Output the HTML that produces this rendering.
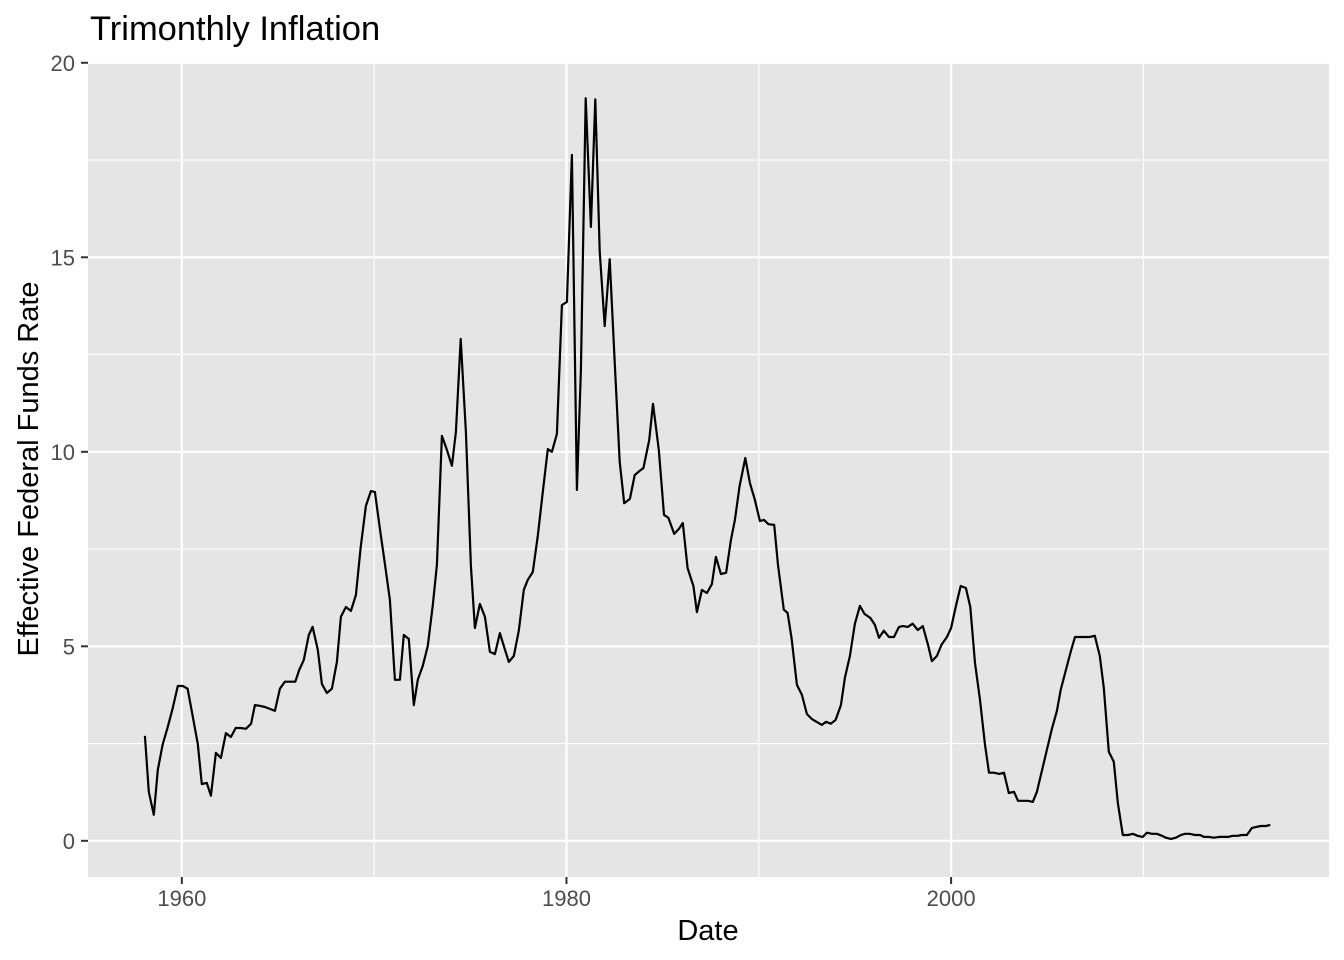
<!DOCTYPE html>
<html><head><meta charset="utf-8"><style>
body{margin:0;background:#fff;}
svg{display:block;font-family:"Liberation Sans",Arial,sans-serif;}
</style></head><body>
<svg id="chart" width="1344" height="960" xmlns="http://www.w3.org/2000/svg">
<rect width="1344" height="960" fill="#fff"/>
<text x="90" y="40" font-size="34.5" fill="#000">Trimonthly Inflation</text>
<rect id="panel" x="88" y="62" width="1241" height="815" fill="#e5e5e5"/>
<g id="grid"></g>
<path id="line" fill="none" stroke="#000" stroke-width="2.2" stroke-linejoin="round"/>
<g id="axes"></g>
<text x="708" y="940" font-size="29" text-anchor="middle">Date</text>
<text transform="translate(38,469) rotate(-90)" font-size="29" text-anchor="middle">Effective Federal Funds Rate</text>
</svg>
<script>
const dates=[1958.08,1958.28,1958.54,1958.75,1959.0,1959.27,1959.53,1959.79,1960.05,1960.3,1960.57,1960.83,1961.04,1961.3,1961.51,1961.77,1962.03,1962.29,1962.55,1962.8,1963.07,1963.33,1963.6,1963.8,1964.06,1964.32,1964.58,1964.84,1965.1,1965.36,1965.6,1965.9,1966.1,1966.34,1966.6,1966.8,1967.07,1967.28,1967.54,1967.8,1968.06,1968.27,1968.53,1968.79,1969.05,1969.3,1969.57,1969.83,1970.04,1970.3,1970.56,1970.82,1971.08,1971.34,1971.54,1971.8,1972.06,1972.27,1972.53,1972.79,1973.05,1973.26,1973.52,1973.78,1974.04,1974.25,1974.5,1974.77,1975.03,1975.24,1975.5,1975.76,1976.02,1976.28,1976.54,1976.74,1977.0,1977.26,1977.52,1977.78,1977.99,1978.25,1978.51,1978.77,1979.03,1979.24,1979.5,1979.76,1980.02,1980.28,1980.54,1980.75,1981.0,1981.27,1981.5,1981.73,1981.99,1982.25,1982.5,1982.77,1983.0,1983.3,1983.55,1983.8,1984.0,1984.3,1984.5,1984.8,1985.07,1985.3,1985.6,1985.85,1986.05,1986.3,1986.6,1986.78,1987.04,1987.3,1987.56,1987.77,1988.03,1988.3,1988.55,1988.76,1989.0,1989.3,1989.54,1989.8,1990.06,1990.27,1990.5,1990.8,1991.0,1991.3,1991.5,1991.7,1991.98,1992.24,1992.5,1992.76,1993.0,1993.28,1993.5,1993.75,1994.0,1994.27,1994.48,1994.74,1995.0,1995.26,1995.5,1995.8,1996.04,1996.25,1996.5,1996.77,1997.03,1997.29,1997.5,1997.75,1998.0,1998.27,1998.53,1998.8,1999.0,1999.26,1999.5,1999.78,2000.0,2000.26,2000.5,2000.77,2001.0,2001.24,2001.5,2001.76,2001.97,2002.23,2002.5,2002.75,2003.0,2003.27,2003.48,2003.73,2004.0,2004.25,2004.46,2004.72,2004.98,2005.24,2005.5,2005.7,2005.97,2006.23,2006.44,2006.7,2006.96,2007.2,2007.47,2007.73,2007.94,2008.2,2008.46,2008.67,2008.93,2009.2,2009.45,2009.7,2009.97,2010.18,2010.44,2010.7,2010.96,2011.17,2011.43,2011.69,2011.95,2012.16,2012.4,2012.68,2012.94,2013.15,2013.4,2013.67,2013.93,2014.13,2014.4,2014.65,2014.9,2015.1,2015.38,2015.64,2015.9,2016.1,2016.37,2016.6];
const rates=[2.70,1.26,0.67,1.82,2.47,2.93,3.42,3.98,3.98,3.91,3.19,2.49,1.46,1.49,1.16,2.26,2.13,2.77,2.67,2.90,2.90,2.88,3.01,3.49,3.47,3.44,3.39,3.34,3.91,4.09,4.09,4.09,4.39,4.65,5.29,5.50,4.91,4.03,3.80,3.91,4.60,5.76,6.01,5.91,6.32,7.55,8.61,8.99,8.97,8.02,7.12,6.19,4.14,4.14,5.29,5.19,3.49,4.14,4.50,5.01,6.06,7.09,10.41,10.05,9.64,10.51,12.90,10.51,7.07,5.47,6.09,5.76,4.86,4.80,5.34,5.01,4.60,4.75,5.40,6.45,6.71,6.91,7.84,8.97,10.07,10.0,10.46,13.77,13.85,17.63,9.02,12.1,19.09,15.78,19.06,15.16,13.23,14.95,12.36,9.74,8.68,8.79,9.40,9.51,9.58,10.3,11.23,10.05,8.38,8.30,7.89,8.02,8.17,7.01,6.55,5.88,6.45,6.37,6.60,7.30,6.86,6.89,7.73,8.25,9.12,9.84,9.20,8.76,8.22,8.25,8.14,8.12,7.09,5.94,5.86,5.22,4.01,3.75,3.26,3.13,3.06,2.98,3.06,3.01,3.11,3.49,4.19,4.75,5.58,6.04,5.83,5.73,5.55,5.22,5.40,5.24,5.24,5.50,5.52,5.50,5.58,5.42,5.52,5.04,4.62,4.75,5.04,5.24,5.47,6.06,6.55,6.50,6.01,4.57,3.62,2.47,1.75,1.75,1.72,1.75,1.23,1.26,1.03,1.03,1.03,1.0,1.26,1.80,2.34,2.88,3.34,3.88,4.39,4.88,5.24,5.24,5.24,5.24,5.27,4.75,3.93,2.29,2.03,0.98,0.15,0.15,0.18,0.13,0.10,0.21,0.18,0.18,0.13,0.08,0.05,0.08,0.15,0.18,0.18,0.15,0.15,0.10,0.10,0.08,0.10,0.10,0.10,0.13,0.13,0.15,0.15,0.33,0.36,0.38,0.38,0.41];
const xTicks=[1960,1980,2000];
const xMinor=[1970,1990,2010];
const yTicks=[0,5,10,15,20];
const yMinor=[2.5,7.5,12.5,17.5];

const NS="http://www.w3.org/2000/svg";
const PX0=88,PX1=1329,PY0=62,PY1=877;
const XMIN=1955.12,XMAX=2019.65,YMIN=-0.93,YMAX=20.02;
const sx=v=>PX0+(v-XMIN)/(XMAX-XMIN)*(PX1-PX0);
const sy=v=>PY1-(v-YMIN)/(YMAX-YMIN)*(PY1-PY0);
function mk(tag,attrs,parent){const e=document.createElementNS(NS,tag);for(const k in attrs)e.setAttribute(k,attrs[k]);parent.appendChild(e);return e;}
const grid=document.getElementById('grid'),axes=document.getElementById('axes');
yMinor.forEach(v=>{const l=mk('line',{x1:PX0,x2:PX1,y1:sy(v),y2:sy(v),stroke:'#fff','stroke-width':1.1},grid);

});
xMinor.forEach(v=>{const l=mk('line',{x1:sx(v),x2:sx(v),y1:PY0,y2:PY1,stroke:'#fff','stroke-width':1.1},grid);

});
yTicks.forEach(v=>{const y=sy(v);
const l=mk('line',{x1:PX0,x2:PX1,y1:y,y2:y,stroke:'#fff','stroke-width':2.2},grid);


const t=mk('line',{x1:PX0-7,x2:PX0,y1:y,y2:y,stroke:'#333','stroke-width':2},axes);


const tx=mk('text',{x:PX0-13,y:y+8,'font-size':22,fill:'#4d4d4d','text-anchor':'end'},axes);tx.textContent=v;

});
xTicks.forEach(v=>{const x=sx(v);
const l=mk('line',{x1:x,x2:x,y1:PY0,y2:PY1,stroke:'#fff','stroke-width':2.2},grid);


const t=mk('line',{x1:x,x2:x,y1:PY1,y2:PY1+7,stroke:'#333','stroke-width':2},axes);


const tx=mk('text',{x:x,y:PY1+29,'font-size':22,fill:'#4d4d4d','text-anchor':'middle'},axes);tx.textContent=v;

});
document.getElementById('line').setAttribute('d',dates.map((d,i)=>(i?'L':'M')+sx(d).toFixed(1)+','+sy(rates[i]).toFixed(1)).join(''));
</script>
</body></html>
